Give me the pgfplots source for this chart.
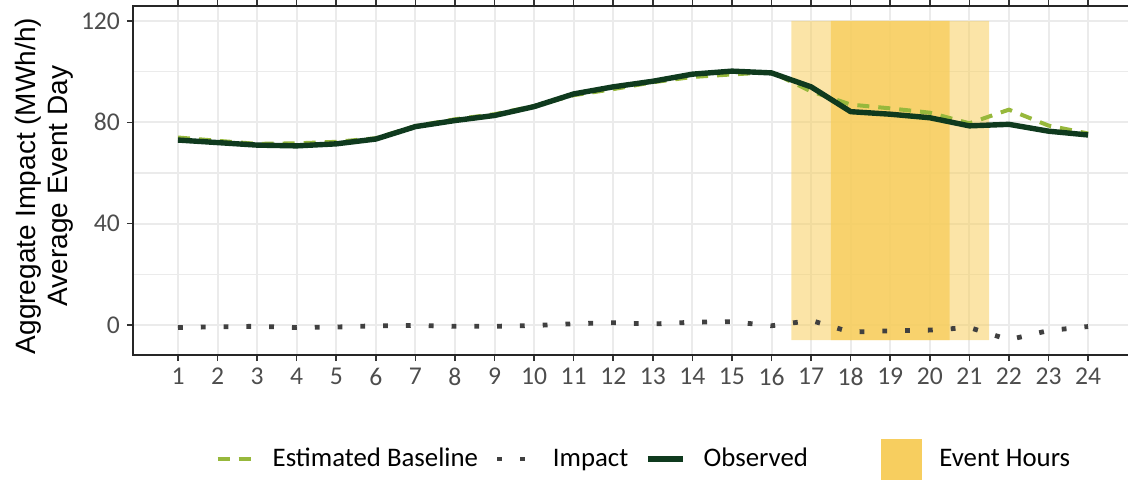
\documentclass[border=0pt]{standalone}
\usepackage{fontspec}
\setmainfont{Carlito}
\newfontfamily\arialfont{Liberation Sans}
\usepackage{pgfplots}
\pgfplotsset{compat=1.18}
\definecolor{baselinec}{HTML}{97B83C}
\definecolor{observedc}{HTML}{0F3A1E}
\definecolor{impactc}{HTML}{404040}
\definecolor{eventc}{HTML}{F7CE5F}
\definecolor{gridc}{HTML}{EBEBEB}
\definecolor{tickc}{HTML}{4D4D4D}
\pgfplotsset{
  linelegend/.style={legend image code/.code={\draw[##1] (0pt,0pt) -- (17.5pt,0pt);}},
  sqlegend/.style={legend image code/.code={\fill[eventc] (0pt,-10pt) rectangle (20pt,10pt);}},
}
\begin{document}
\begin{tikzpicture}
\useasboundingbox (-66.5pt,-62pt) rectangle (497.5pt,177.5pt);
\begin{axis}[
  at={(0,0)}, anchor=south west,
  scale only axis, width=498.5pt, height=174.5pt,
  xmin=-0.137, xmax=25.06, ymin=-11.84, ymax=125.9,
  xtick={1,...,24}, ytick={0,40,80,120}, minor ytick={20,60,100},
  grid=both,
  major grid style={gridc, line width=1pt},
  minor grid style={gridc, line width=0.6pt},
  tick align=outside, major tick length=3pt,
  tick style={black!80, line width=0.8pt},
  minor tick length=0pt,
  axis line style={black!85, line width=0.8pt},
  /pgf/number format/assume math mode=true,
  ticklabel style={font=\fontsize{12.8}{14}\selectfont, text=tickc},
  ylabel={Aggregate Impact (MWh/h)\\Average Event Day},
  ylabel style={align=center, font=\arialfont\fontsize{14}{16}\selectfont, at={(axis description cs:-0.089,0.484)}, anchor=center, rotate=0},
  legend style={draw=none, fill=none, at={(rel axis cs:0.5115,-0.298)}, anchor=center,
    font=\fontsize{13.4}{15}\selectfont, legend columns=4,
    nodes={inner sep=0pt},
    /tikz/every odd column/.append style={column sep=9pt},
    /tikz/every even column/.append style={column sep=8.5pt}},
  legend cell align=left,
]
\addplot[fill=eventc, fill opacity=0.55, draw=none, forget plot] coordinates {(16.5,-6) (16.5,120) (21.5,120) (21.5,-6) (16.5,-6)};
\addplot[fill=eventc, fill opacity=0.8, draw=none, forget plot] coordinates {(17.5,-6) (17.5,120) (20.5,120) (20.5,-6) (17.5,-6)};
\addplot[baselinec, line width=2pt, dash pattern=on 6pt off 4.5pt, linelegend] coordinates {
(1,74.0) (2,72.7) (3,71.5) (4,71.7) (5,72.3) (6,73.7) (7,78.5) (8,81.2) (9,83.2) (10,86.4) (11,90.7) (12,93.1) (13,95.8) (14,97.9) (15,98.9) (16,99.8) (17,92.2) (18,87.0) (19,85.5) (20,83.8) (21,79.6) (22,85.0) (23,78.7) (24,75.6)};
\addlegendentry{Estimated Baseline}
\addplot[impactc, line width=2.4pt, dash pattern=on 2.4pt off 9pt, linelegend] coordinates {
(1,-1.0) (2,-0.7) (3,-0.5) (4,-1.0) (5,-0.8) (6,-0.3) (7,-0.2) (8,-0.5) (9,-0.5) (10,-0.2) (11,0.5) (12,0.9) (13,0.4) (14,1.1) (15,1.3) (16,-0.3) (17,1.8) (18,-2.8) (19,-2.3) (20,-2.0) (21,-1.0) (22,-5.8) (23,-2.2) (24,-0.6)};
\addlegendentry{Impact}
\addplot[observedc, line width=2.7pt, line join=round, linelegend] coordinates {
(1,73.0) (2,72.0) (3,71.0) (4,70.7) (5,71.5) (6,73.4) (7,78.3) (8,80.7) (9,82.7) (10,86.2) (11,91.2) (12,94.0) (13,96.2) (14,99.0) (15,100.2) (16,99.5) (17,94.0) (18,84.2) (19,83.2) (20,81.8) (21,78.6) (22,79.2) (23,76.5) (24,75.0)};
\addlegendentry{\makebox[80pt][l]{Observed}}
\addlegendimage{sqlegend}
\addlegendentry{Event Hours}
\end{axis}
\end{tikzpicture}
\end{document}
